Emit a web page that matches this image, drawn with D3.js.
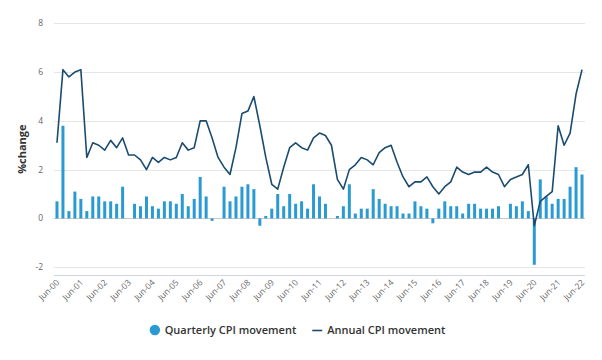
<!DOCTYPE html>
<html><head><meta charset="utf-8">
<script src="https://cdn.jsdelivr.net/npm/d3@7"></script>
<style>body{margin:0;background:#fff} svg{font-family:"Open Sans",sans-serif;display:block}</style>
</head><body>
<svg id="c" width="602" height="360"></svg>
<script>
// Quarters from Jun-2000 to Jun-2022
const tickLabels = ["Jun-00","Jun-01","Jun-02","Jun-03","Jun-04","Jun-05","Jun-06","Jun-07","Jun-08","Jun-09","Jun-10","Jun-11","Jun-12","Jun-13","Jun-14","Jun-15","Jun-16","Jun-17","Jun-18","Jun-19","Jun-20","Jun-21","Jun-22"];
const quarterMonths = ["Jun","Sep","Dec","Mar"];
const quarterly = [0.7,3.8,0.3,1.1,0.8,0.3,0.9,0.9,0.7,0.7,0.6,1.3,0.0,0.6,0.5,0.9,0.5,0.4,0.7,0.7,
  0.6,1.0,0.5,0.8,1.7,0.9,-0.1,0.0,1.3,0.7,0.9,1.3,1.4,1.2,-0.3,0.1,0.4,1.0,0.5,1.0,
  0.6,0.7,0.4,1.4,0.9,0.6,0.0,0.1,0.5,1.4,0.2,0.4,0.4,1.2,0.8,0.6,0.5,0.5,0.2,0.2,
  0.7,0.5,0.4,-0.2,0.4,0.7,0.5,0.5,0.2,0.6,0.6,0.4,0.4,0.4,0.5,0.0,0.6,0.5,0.7,0.3,
  -1.9,1.6,0.9,0.6,0.8,0.8,1.3,2.1,1.8];
const annual = [3.1,6.1,5.8,6.0,6.1,2.5,3.1,3.0,2.8,3.2,2.9,3.3,2.6,2.6,2.4,2.0,2.5,2.3,2.5,2.4,
  2.5,3.1,2.8,2.9,4.0,4.0,3.3,2.5,2.1,1.8,2.9,4.3,4.4,5.0,3.8,2.5,1.4,1.2,2.1,2.9,
  3.1,2.9,2.8,3.3,3.5,3.4,3.0,1.6,1.2,2.0,2.2,2.5,2.4,2.2,2.7,2.9,3.0,2.3,1.7,1.3,
  1.5,1.5,1.7,1.3,1.0,1.3,1.5,2.1,1.9,1.8,1.9,1.9,2.1,1.9,1.8,1.3,1.6,1.7,1.8,2.2,
  -0.3,0.7,0.9,1.1,3.8,3.0,3.5,5.1,6.1];
const yTicks = [-2,0,2,4,6,8];
const seriesNames = ["Quarterly CPI movement","Annual CPI movement"];
const yTitle = "%change";

// categories built from the quarter sequence
const categories = quarterly.map((_, i) => {
  const m = quarterMonths[i % 4];
  const yr = 2000 + Math.floor((i + 1) / 4);
  return m + "-" + String(yr % 100).padStart(2, "0");
});

const barColor = "#2a9ad3", lineColor = "#1b4c6f";
const svg = d3.select("#c");
const L = 54, R = 585, T = 23.3, B = 275;

const x = d3.scaleBand().domain(categories).range([L, R]);
const y = d3.scaleLinear().domain([-2.32, 8]).range([B, T]);
const cx = c => x(c) + x.bandwidth() / 2;

// gridlines
svg.append("g").selectAll("line").data(yTicks).join("line")
  .attr("x1", L).attr("x2", R)
  .attr("y1", d => Math.round(y(d)) + 0.5).attr("y2", d => Math.round(y(d)) + 0.5)
  .attr("stroke", d => d === 0 ? "#c8c8c8" : "#e6e6e6").attr("stroke-width", 1);

// y tick labels
svg.append("g").selectAll("text").data(yTicks).join("text")
  .attr("x", 43).attr("y", d => y(d) + 3)
  .attr("text-anchor", "end").attr("font-size", 8.5).attr("fill", "#666")
  .text(d => d);

// y title
svg.append("text").attr("transform", `translate(25.5,${(T + B) / 2}) rotate(-90)`)
  .attr("text-anchor", "middle").attr("font-size", 11).attr("font-weight", 700)
  .attr("fill", "#333").text(yTitle);

// x axis line
svg.append("line").attr("x1", L).attr("x2", R).attr("y1", B + 0.5).attr("y2", B + 0.5)
  .attr("stroke", "#ccd6eb");

// x tick labels
const tickCats = categories.filter(c => tickLabels.includes(c));
svg.append("g").selectAll("text").data(tickCats).join("text")
  .attr("transform", c => `translate(${cx(c) + 3},${B + 8}) rotate(-45)`)
  .attr("text-anchor", "end").attr("font-size", 8.5).attr("fill", "#666")
  .text(c => c);

// bars
const bw = 3;
svg.append("g").selectAll("rect").data(quarterly.map((v, i) => ({c: categories[i], v})))
  .join("rect")
  .attr("x", d => cx(d.c) - bw / 2).attr("width", bw)
  .attr("y", d => y(Math.max(0, d.v)))
  .attr("height", d => Math.abs(y(d.v) - y(0)))
  .attr("fill", barColor);

// line
const line = d3.line().x(d => cx(d.c)).y(d => y(d.v));
svg.append("path").datum(annual.map((v, i) => ({c: categories[i], v})))
  .attr("d", line).attr("fill", "none").attr("stroke", lineColor)
  .attr("stroke-width", 1.6).attr("stroke-linejoin", "round");

// legend
const lg = svg.append("g").attr("font-size", 11).attr("font-weight", 600).attr("fill", "#333");
const ly = 330;
const off = 15;
const items = lg.selectAll("g").data(seriesNames).join("g");
items.append("text").attr("x", off).attr("y", ly + 4).text(d => d);
let widths = [];
items.each(function () { widths.push(this.querySelector("text").getComputedTextLength() + off); });
const gap = 16;
const total = d3.sum(widths) + gap * (widths.length - 1);
let start = 297.5 - total / 2;
items.each(function (d, i) {
  const g = d3.select(this);
  g.attr("transform", `translate(${start},0)`);
  if (i === 0) g.insert("circle", "text").attr("cx", 5.2).attr("cy", ly).attr("r", 5.2).attr("fill", barColor);
  else g.insert("line", "text").attr("x1", 0).attr("x2", 10).attr("y1", ly + 0.5).attr("y2", ly + 0.5)
        .attr("stroke", lineColor).attr("stroke-width", 1.6);
  start += widths[i] + gap;
});
</script>
</body></html>
